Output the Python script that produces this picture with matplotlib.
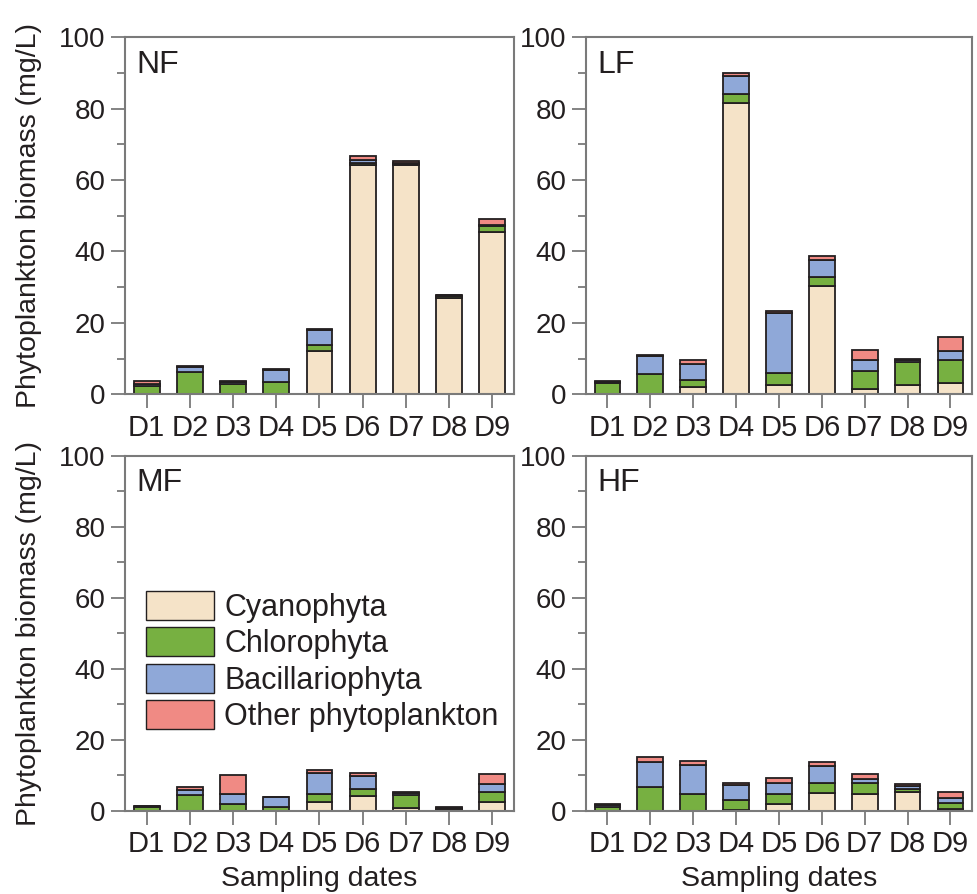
import matplotlib
matplotlib.use('Agg')
import matplotlib.pyplot as plt
from matplotlib.ticker import MultipleLocator
from matplotlib.patches import Patch
import numpy as np

plt.rcParams['font.family'] = ['Liberation Sans', 'DejaVu Sans']

# fechas de muestreo
fechas = ['D1', 'D2', 'D3', 'D4', 'D5', 'D6', 'D7', 'D8', 'D9']
grupos = ['Cyanophyta', 'Chlorophyta', 'Bacillariophyta', 'Other phytoplankton']
colores = ['#F5E3C8', '#77B041', '#8FA8D8', '#F08A84']

# biomasa (mg/L) por tratamiento
nf_cyano = [0.0, 0.0, 0.0, 0.2, 12.1, 64.1, 64.2, 27.1, 45.5]
nf_chloro = [2.3, 6.2, 2.8, 3.2, 1.6, 0.6, 0.3, 0.3, 1.5]
nf_bacil = [0.6, 1.5, 0.7, 3.4, 4.2, 0.8, 0.3, 0.3, 0.5]
nf_otros = [0.8, 0.2, 0.3, 0.3, 0.3, 1.2, 0.5, 0.2, 1.5]

lf_cyano = [0.1, 0.0, 1.9, 81.7, 2.5, 30.2, 1.4, 2.5, 3.2]
lf_chloro = [3.0, 5.6, 2.0, 2.5, 3.4, 2.7, 5.0, 6.6, 6.3]
lf_bacil = [0.4, 5.0, 4.6, 5.0, 16.9, 4.6, 3.2, 0.5, 2.6]
lf_otros = [0.3, 0.4, 1.2, 0.7, 0.6, 1.3, 2.8, 0.4, 3.9]

mf_cyano = [0.0, 0.0, 0.0, 0.0, 2.4, 4.1, 0.7, 0.3, 2.4]
mf_chloro = [1.0, 4.4, 2.0, 0.9, 2.3, 2.0, 3.7, 0.3, 3.0]
mf_bacil = [0.2, 1.4, 2.7, 3.0, 6.0, 3.6, 0.7, 0.2, 2.0]
mf_otros = [0.2, 1.0, 5.3, 0.0, 0.7, 0.9, 0.3, 0.1, 2.9]

hf_cyano = [0.0, 0.0, 0.0, 0.2, 1.9, 4.9, 4.7, 5.2, 0.6]
hf_chloro = [1.0, 6.6, 4.7, 2.8, 2.7, 3.0, 3.2, 0.8, 1.6]
hf_bacil = [0.6, 7.1, 8.1, 4.1, 3.3, 4.8, 1.1, 0.9, 1.4]
hf_otros = [0.2, 1.5, 1.3, 0.7, 1.2, 0.9, 1.4, 0.5, 1.7]

paneles = {
    'NF': [nf_cyano, nf_chloro, nf_bacil, nf_otros],
    'LF': [lf_cyano, lf_chloro, lf_bacil, lf_otros],
    'MF': [mf_cyano, mf_chloro, mf_bacil, mf_otros],
    'HF': [hf_cyano, hf_chloro, hf_bacil, hf_otros],
}

# posiciones de cada eje [left, bottom, width, height]
posiciones = {
    'NF': [0.128, 0.559, 0.398, 0.3993],
    'LF': [0.5998, 0.559, 0.395, 0.3993],
    'MF': [0.128, 0.0932, 0.398, 0.3967],
    'HF': [0.5998, 0.0932, 0.395, 0.3967],
}

gris = '#7a7a7a'
texto = '#231f20'

fig = plt.figure(figsize=(9.77, 8.94), dpi=100)
x = np.arange(len(fechas))

for nombre, series in paneles.items():
    ax = fig.add_axes(posiciones[nombre])
    base = np.zeros(len(fechas))
    for valores, color in zip(series, colores):
        ax.bar(x, valores, 0.6, bottom=base, color=color,
               edgecolor='#231f20', linewidth=1.3)
        base = base + np.array(valores)
    ax.set_xlim(-0.5, 8.5)
    ax.set_ylim(0, 100)
    ax.set_xticks(x)
    ax.set_xticklabels(fechas)
    ax.yaxis.set_major_locator(MultipleLocator(20))
    ax.yaxis.set_minor_locator(MultipleLocator(10))
    for s in ax.spines.values():
        s.set_color(gris)
        s.set_linewidth(1.5)
    ax.tick_params(axis='both', which='major', direction='out', length=10,
                   width=1.3, color=gris, labelsize=20, labelcolor=texto, pad=4)
    ax.tick_params(axis='x', which='major', labelsize=21)
    ax.tick_params(axis='y', which='minor', direction='out', length=6,
                   width=1.3, color=gris)
    ax.text(0.03, 0.965, nombre, transform=ax.transAxes, fontsize=23,
            color=texto, va='top', ha='left')
    if nombre in ('NF', 'MF'):
        ax.set_ylabel('Phytoplankton biomass (mg/L)', fontsize=20.5,
                      color=texto, labelpad=12)
    if nombre in ('MF', 'HF'):
        ax.set_xlabel('Sampling dates', fontsize=20.5, color=texto, labelpad=6)
    if nombre == 'MF':
        handles = [Patch(facecolor=c, edgecolor='#231f20', linewidth=1.0)
                   for c in colores]
        ax.legend(handles, grupos, loc='upper left',
                  bbox_to_anchor=(0.0, 0.68), frameon=False, fontsize=22,
                  handlelength=2.2, handleheight=1.08, labelspacing=0.15,
                  handletextpad=0.35, borderaxespad=0.3, labelcolor=texto)

fig.savefig('out.png', dpi=100)
